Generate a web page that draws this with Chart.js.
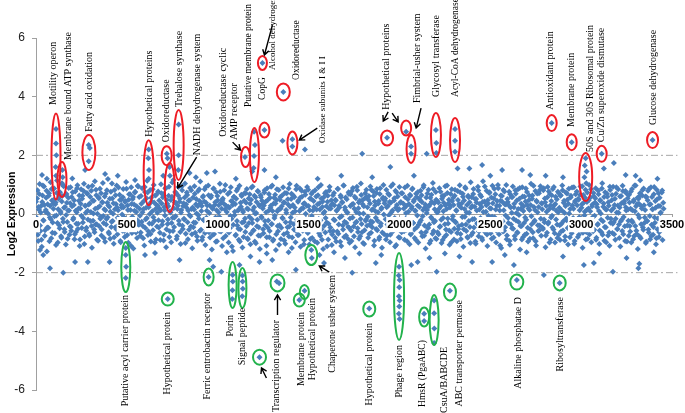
<!DOCTYPE html>
<html>
<head>
<meta charset="utf-8">
<script src="https://cdn.jsdelivr.net/npm/chart.js@4.4.1/dist/chart.umd.min.js"></script>
<style>
  html, body { margin: 0; padding: 0; background: #fff; }
</style>
</head>
<body>
<canvas id="expr" width="685" height="413"></canvas>
<script>
// log2 expression of the gene cloud, one value every geneStep genes
const geneStep = 4;
const expression = [
  0.42,-0.35,0.81,-0.92,0.15,1.02,-0.58,0.27,-1.12,0.63,-0.21,0.94,-0.74,0.08,0.55,-1.28,0.33,-0.47,0.71,-0.12,1.08,-0.83,0.46,-0.29,
  0.18,0.87,-0.66,0.39,-0.05,1.14,-0.97,0.52,-0.38,0.74,0.03,-0.81,0.61,-0.16,0.95,-0.52,0.24,-1.04,0.68,-0.27,0.12,0.89,-0.71,0.37,
  -0.44,0.58,1.21,-0.19,0.31,-0.86,0.77,-0.61,0.06,0.98,-0.33,0.45,-1.09,0.19,0.84,-0.48,0.62,-0.14,1.03,-0.77,0.28,-0.56,0.72,0.11,
  0.93,-0.68,0.36,-0.24,0.79,-1.15,0.47,0.02,-0.53,1.12,-0.36,0.64,-0.88,0.21,0.57,-0.42,0.86,-0.09,-0.73,0.41,1.06,-0.31,0.16,-0.95,
  0.69,-0.17,0.38,1.19,-0.62,0.25,-0.84,0.76,-0.26,0.53,0.01,-1.01,0.82,-0.45,0.34,0.97,-0.69,0.13,-0.37,0.66,-0.92,0.49,0.22,-0.57,
  0.85,-0.11,-0.78,0.44,1.09,-0.49,0.29,-0.98,0.67,-0.22,0.14,0.91,-0.65,0.51,-1.18,0.32,0.73,-0.39,0.07,-0.82,0.96,-0.28,0.58,-0.06,
  -0.63,0.35,0.88,-0.41,0.17,-1.07,0.75,-0.18,0.54,1.13,-0.72,0.23,-0.32,0.82,-0.94,0.43,0.09,-0.55,0.99,-0.23,0.63,-0.87,0.31,0.04,
  0.77,-0.46,0.19,-0.89,1.01,0.36,-0.25,0.68,-0.71,0.12,0.87,-1.13,0.48,-0.34,0.26,0.93,-0.59,0.05,-0.96,0.59,-0.13,1.16,-0.44,0.39,
  -0.08,0.71,-0.76,0.28,0.92,-0.35,0.52,-1.02,0.14,0.81,-0.51,0.37,-0.19,1.04,-0.67,0.22,0.65,-0.86,0.46,-0.03,0.89,-0.43,0.17,-1.17,
  0.56,-0.29,0.95,-0.64,0.33,0.02,-0.91,0.78,-0.15,0.44,1.11,-0.54,0.27,-0.79,0.61,-0.21,0.84,-1.06,0.38,0.11,-0.47,0.97,-0.62,0.29,
  -0.37,0.62,-1.21,0.18,0.86,-0.68,0.31,-0.12,0.74,-0.93,0.47,0.06,-0.58,1.03,-0.26,0.39,-1.09,0.53,-0.44,0.81,0.15,-0.75,0.27,-0.33,
  0.68,-0.97,0.21,-0.48,0.91,-0.16,0.43,-1.26,0.58,-0.04,0.34,-0.71,0.79,-0.39,0.12,-0.88,0.96,-0.52,0.25,0.61,-1.14,0.07,-0.27,0.72,
  -0.61,0.38,0.85,-0.83,0.16,-0.31,0.67,-1.03,0.49,-0.18,0.94,-0.56,0.23,-0.94,0.57,0.03,-0.42,0.78,-0.73,0.31,-1.19,0.64,-0.09,0.45,
  0.19,-0.66,0.73,-0.24,0.42,-1.08,0.88,-0.47,0.11,-0.79,0.55,0.28,-0.35,0.97,-0.91,0.36,-0.14,0.66,-1.23,0.48,0.09,-0.59,0.82,-0.38,
  0.58,-0.85,0.26,-0.13,0.91,-0.69,0.39,-1.01,0.14,0.71,-0.45,0.32,-0.77,1.02,-0.28,0.51,-1.16,0.04,0.63,-0.53,0.22,-0.96,0.84,-0.19,
  -0.72,0.46,-0.33,0.87,-1.12,0.18,0.59,-0.57,0.35,-0.89,0.76,0.01,-0.41,0.92,-0.65,0.27,-1.04,0.53,-0.23,0.69,-0.82,0.12,0.44,-0.49,
  0.81,-0.36,0.15,-0.98,0.64,-0.17,0.37,-0.74,0.99,-0.52,0.24,-1.19,0.57,0.08,-0.63,0.75,-0.29,0.42,-0.87,0.19,0.93,-0.46,0.31,-1.06,
  0.35,-0.58,0.72,-0.21,0.49,-0.94,0.13,0.86,-0.67,0.28,-0.12,0.63,-1.09,0.41,-0.39,0.97,-0.78,0.22,0.56,-0.31,0.05,-0.84,0.74,-0.47,
  -0.15,0.67,-0.92,0.33,0.89,-0.43,0.18,-1.13,0.54,-0.26,0.81,-0.61,0.39,0.02,-0.76,1.04,-0.34,0.47,-0.99,0.26,-0.55,0.71,-0.19,0.58,
  0.23,-0.81,0.61,-0.37,0.94,-0.64,0.14,-0.27,0.77,-1.07,0.43,0.09,-0.51,0.85,-0.23,0.36,-0.86,0.68,-0.41,0.17,-1.15,0.52,0.99,-0.69,
  0.46,-0.18,0.83,-0.73,0.27,-0.44,0.65,-0.96,0.38,0.06,-0.59,1.01,-0.33,0.54,-1.11,0.21,0.74,-0.48,0.13,-0.79,0.92,-0.25,0.41,-0.62,
  0.71,-0.39,0.19,-0.88,0.57,0.03,-0.54,0.96,-0.21,0.34,-1.03,0.62,-0.66,0.25,0.87,-0.31,0.48,-0.82,0.11,0.69,-0.45,0.29,-0.97,0.53,
  -0.28,0.79,-0.63,0.41,-0.08,0.91,-0.74,0.22,-1.18,0.56,0.14,-0.47,0.83,-0.36,0.32,-0.91,0.66,-0.16,1.06,-0.58,0.37,-0.24,0.75,-0.85,
  0.44,0.07,-0.69,0.88,-0.42,0.26,-0.99,0.61,-0.14,0.38,-0.78,0.95,-0.53,0.17,0.72,-0.32,0.49,-1.05,0.29,-0.61,0.84,-0.19,0.55,-0.87,
  0.62,-0.26,0.13,-0.93,0.78,-0.51,0.34,0.98,-0.68,0.21,-0.37,0.69,-1.12,0.46,-0.09,0.87,-0.58,0.31,-0.81,0.57,0.04,-0.44,1.08,-0.72,
  0.27,-0.64,0.85,-0.17,0.51,-1.01,0.39,-0.33,0.93,-0.76,0.15,0.66,-0.47,0.24,-0.89,1.12,-0.23,0.43,-0.62,0.08,0.79,-1.09,0.36,-0.29,
  0.74,-0.55,0.19,-0.84,0.96,-0.38,0.53,-0.11,0.67,-0.97,0.28,-0.43,0.88,-0.69,0.12,0.45,-1.16,0.61,-0.25,0.82,-0.57,0.33,-0.05,0.99,
  -0.73,0.41,-0.31,0.76,-1.05,0.22,0.58,-0.49,0.94,-0.16,0.35,-0.86,0.69,0.03,-0.62,0.84,-0.27,0.52,-1.21,0.18,-0.41,0.91,-0.79,0.26,
  0.59,-0.12,0.87,-0.67,0.31,-0.94,0.47,0.14,-0.52,1.03,-0.35,0.63,-0.83,0.24,-0.22,0.78,-1.07,0.42,0.06,-0.58,0.71,-0.39,0.95,-0.74,
  0.36,-0.47,0.81,-0.19,0.53,-1.13,0.27,-0.64,0.92,-0.28,0.16,0.68,-0.87,0.44,-0.06,0.85,-0.53,0.31,-0.97,0.59,0.11,-0.36,0.76,-0.71,
  0.21,-0.89,0.64,-0.33,0.97,-0.56,0.38,0.04,-0.77,0.73,-0.21,0.49,-1.04,0.86,-0.43,0.17,0.62,-0.66,0.29,-0.14,0.91,-0.92,0.45,-0.37,
  0.77,-0.18,0.52,-0.71,0.13,0.94,-0.48,0.33,-1.15,0.65,-0.29,0.08,0.83,-0.61,0.41,-0.84,0.19,0.99,-0.39,0.57,-0.96,0.26,-0.11,0.72,
  -0.54,0.39,0.88,-0.81,0.23,-0.34,0.67,-1.02,0.48,0.02,-0.62,1.05,-0.25,0.36,-0.91,0.74,-0.45,0.15,0.59,-0.73,0.28,-1.08,0.82,-0.16,
  0.47,-0.65,0.93,-0.27,0.31,-0.88,0.69,0.05,-0.51,0.84,-0.36,0.22,-1.11,0.61,-0.19,0.96,-0.69,0.37,-0.42,0.78,0.12,-0.94,0.54,-0.23,
  0.66,-0.41,0.18,-0.97,0.85,-0.28,0.43,-0.75,0.09,0.97,-0.57,0.34,-1.19,0.52,-0.13,0.71,-0.83,0.26,0.63,-0.46,0.87,-0.31,0.14,-0.99,
  0.58,-0.24,0.79,-0.63,0.32,-0.86,0.91,-0.37,0.16,-0.71,0.67,-0.12,0.44,-1.03,0.83,-0.52,0.27,-0.78,0.55,0.03,-0.46,0.73,-0.89,0.38
];
// the genes in between (offset of geneStep / 2)
const expressionMid = [
  -0.12,0.53,-0.71,0.24,0.68,-0.39,0.05,-0.88,0.41,0.97,-0.22,0.31,-0.55,0.14,0.79,-0.46,0.02,0.62,-0.93,0.27,-0.18,0.85,-0.64,0.36,
  0.49,-0.08,0.33,-1.06,0.72,-0.31,0.16,0.58,-0.49,0.09,-0.76,0.43,1.0,-0.27,0.21,-0.61,0.66,-0.03,0.38,-0.84,0.55,0.12,-0.42,0.91,
  -0.57,0.26,0.74,-0.14,0.47,-0.69,0.11,-0.33,0.88,-0.51,0.19,0.63,-0.87,0.35,-0.06,0.52,-0.29,0.78,-1.02,0.28,0.04,-0.47,0.69,-0.19,
  0.32,-0.74,0.59,0.07,-0.41,0.96,-0.23,0.45,-0.62,0.18,0.83,-0.35,0.01,-0.91,0.54,0.26,-0.16,0.71,-0.53,0.39,-0.07,-0.82,0.6,0.13,
  -0.36,0.81,-0.11,0.29,-0.67,0.52,0.08,-0.44,1.04,-0.24,0.37,-0.79,0.16,0.64,-0.52,0.22,-0.13,0.9,-0.38,0.48,-0.96,0.31,-0.02,0.57,
  0.23,-0.58,0.41,-0.17,0.86,-0.72,0.14,0.49,-0.29,0.67,-1.08,0.34,-0.09,0.58,-0.45,0.11,0.76,-0.63,0.26,-0.21,0.94,-0.37,0.18,-0.74,
  0.61,-0.26,0.06,-0.83,0.44,0.92,-0.48,0.21,-0.14,0.73,-0.59,0.32,0.0,-0.68,0.55,-0.33,0.84,-0.11,0.39,-0.97,0.17,0.66,-0.43,0.28,
  -0.21,0.46,-0.64,0.13,0.71,-0.37,0.57,-0.9,0.24,-0.05,0.89,-0.52,0.35,-0.19,0.62,-0.78,0.09,0.48,-0.31,1.07,-0.58,0.2,-0.12,0.75,
  0.38,-0.85,0.17,0.63,-0.23,0.42,-0.61,0.05,0.94,-0.4,0.27,-0.16,0.56,-0.99,0.33,0.73,-0.28,0.12,-0.54,0.47,-0.08,0.81,-0.69,0.22,
  -0.45,0.15,0.69,-0.3,0.51,-0.77,0.26,-0.04,0.84,-0.57,0.36,0.1,-0.89,0.58,-0.2,0.43,-0.65,0.92,-0.13,0.29,-0.48,0.64,0.03,-0.8,
  0.56,-0.34,0.22,-0.71,0.87,-0.18,0.4,-0.95,0.13,0.61,-0.46,0.3,-0.1,0.76,-0.6,0.18,0.48,-0.83,0.35,-0.26,0.99,-0.52,0.07,-0.39,
  0.25,-0.63,0.74,-0.07,0.44,-1.11,0.31,-0.37,0.59,0.08,-0.73,0.52,-0.24,0.86,-0.5,0.17,-0.94,0.38,0.66,-0.29,0.12,-0.78,0.45,-0.15,
  0.71,-0.42,0.19,-0.86,0.53,-0.09,0.35,-0.67,0.9,-0.31,0.14,-0.55,0.62,0.02,-1.0,0.41,-0.2,0.77,-0.45,0.27,-0.74,0.57,-0.13,0.34,
  -0.52,0.29,0.81,-0.38,0.06,-0.79,0.47,-0.22,0.68,-0.58,0.21,0.93,-0.34,0.1,-0.87,0.55,-0.06,0.36,-0.69,0.84,-0.41,0.15,-1.05,0.49,
  0.18,-0.47,0.63,-0.15,0.39,-0.9,0.72,-0.28,0.04,-0.64,0.5,0.87,-0.43,0.25,-0.12,0.69,-0.8,0.31,-0.35,0.58,0.09,-0.57,0.96,-0.25,
  0.42,-0.72,0.1,0.55,-0.32,0.79,-0.54,0.2,-1.03,0.37,0.66,-0.17,0.28,-0.61,0.83,-0.39,0.13,-0.85,0.51,-0.07,0.74,-0.48,0.24,-0.93,
  -0.28,0.6,-0.5,0.33,0.91,-0.66,0.15,-0.21,0.53,-0.88,0.43,0.03,-0.4,0.71,-0.14,0.26,-1.1,0.62,-0.33,0.8,-0.58,0.19,0.47,-0.7,
  0.64,-0.19,0.3,-0.81,0.46,0.11,-0.6,0.85,-0.36,0.22,-0.95,0.57,-0.08,0.39,-0.53,0.97,-0.26,0.14,-0.73,0.5,0.05,-0.44,0.68,-0.98,
  0.27,-0.56,0.78,-0.12,0.34,-0.76,0.59,-0.3,0.07,0.93,-0.49,0.2,-0.84,0.45,-0.17,0.65,-0.62,0.33,0.02,-1.02,0.54,-0.23,0.83,-0.4,
  -0.09,0.48,-0.68,0.36,-0.25,0.82,-0.45,0.16,0.61,-0.91,0.29,-0.13,0.72,-0.55,0.06,0.44,-0.79,0.88,-0.32,0.21,-0.63,0.56,-0.02,0.37,
  0.53,-0.87,0.23,-0.36,0.69,-0.04,0.41,-0.71,0.95,-0.27,0.12,-0.58,0.46,-0.14,0.79,-1.06,0.31,0.6,-0.46,0.17,-0.81,0.38,0.71,-0.2,
  -0.33,0.35,-0.59,0.9,-0.16,0.27,-0.93,0.5,0.08,-0.42,0.66,-0.7,0.19,0.84,-0.3,0.43,-0.53,0.11,-0.88,0.58,-0.05,0.75,-0.37,0.24,
  0.47,-0.21,0.64,-0.76,0.14,0.98,-0.39,0.32,-0.61,0.03,0.7,-0.48,0.26,-1.0,0.55,-0.11,0.42,-0.67,0.85,-0.28,0.16,-0.83,0.49,0.06,
  -0.62,0.39,0.18,-0.44,0.76,-0.2,0.52,-0.89,0.09,0.63,-0.35,0.29,-0.72,0.97,-0.15,0.37,-0.56,0.22,0.68,-0.96,0.44,-0.08,0.31,-0.5,
  0.83,-0.29,0.11,-0.65,0.48,-0.41,0.27,0.74,-0.85,0.36,-0.1,0.59,-0.52,0.17,0.91,-0.36,0.05,-0.78,0.62,-0.24,0.4,-0.99,0.21,0.57,
  -0.18,0.68,-0.46,0.25,-0.94,0.51,0.12,-0.3,0.8,-0.6,0.34,-0.14,0.6,-0.82,0.41,0.07,-0.52,0.94,-0.23,0.3,-0.7,0.47,-0.06,0.72,
  0.2,-0.66,0.56,-0.09,0.37,-0.8,0.86,-0.34,0.15,-0.57,0.44,0.99,-0.27,0.28,-1.07,0.63,-0.19,0.42,-0.6,0.13,0.77,-0.45,0.32,-0.86,
  0.51,-0.14,0.3,-0.92,0.67,-0.36,0.04,0.58,-0.5,0.23,-0.75,0.81,-0.22,0.46,-0.64,0.17,-0.03,0.89,-0.41,0.35,-0.87,0.6,0.1,-0.31,
  -0.71,0.43,-0.2,0.75,-0.47,0.19,0.63,-0.84,0.31,-0.08,0.52,-0.62,0.96,-0.26,0.14,-0.93,0.45,0.7,-0.38,0.24,-0.55,0.83,-0.16,0.37,
  0.16,-0.51,0.88,-0.28,0.4,-0.73,0.08,0.57,-0.33,0.77,-0.97,0.29,-0.12,0.64,-0.46,0.2,0.92,-0.66,0.34,-0.19,0.5,-0.82,0.06,0.71,
  -0.38,0.62,-0.6,0.12,0.81,-0.25,0.45,-0.9,0.27,-0.15,0.7,-0.48,0.35,0.02,-0.79,0.56,-0.31,0.9,-0.53,0.18,-1.01,0.41,0.67,-0.22,
  0.3,-0.78,0.49,-0.11,0.66,-0.43,0.21,0.95,-0.64,0.38,-0.05,0.55,-0.87,0.14,0.73,-0.34,0.47,-0.7,0.09,0.84,-0.27,0.32,-0.59,0.6,
  -0.06,0.54,-0.88,0.33,-0.37,0.79,0.1,-0.56,0.45,-0.2,0.87,-0.71,0.25,0.58,-0.44,0.16,-0.96,0.69,-0.13,0.4,-0.63,0.93,-0.3,0.12,
  0.65,-0.33,0.2,-0.69,0.52,-0.16,0.91,-0.51,0.29,0.04,-0.82,0.6,-0.25,0.37,-0.58,0.78,-0.1,0.44,-0.92,0.23,0.7,-0.39,0.15,-0.74,
  0.39,-0.6,0.77,-0.22,0.13,-0.86,0.48,0.97,-0.41,0.26,-0.68,0.55,-0.03,0.35,-0.77,0.64,-0.35,0.19,0.82,-0.54,0.3,-0.12,0.6,-0.95,
  -0.24,0.47,-0.53,0.86,-0.07,0.33,-0.75,0.58,0.16,-0.44,0.92,-0.3,0.21,-0.83,0.5,-0.15,0.71,-0.62,0.27,0.05,-0.49,0.8,-0.36,0.18
];

// individual genes outside the main band: [gene, log2 expression]
const upperOutliers = [
  [110,2.9],[110,2.4],[112,2.0],[108,1.6],[110,1.3],[145,1.5],[147,1.25],[143,1.05],[290,2.35],[296,2.25],[290,1.8],
  [620,2.2],[618,1.9],[622,1.5],[620,1.2],[720,2.05],[724,1.9],[735,1.6],[737,1.3],[785,3.05],[785,2.0],[783,1.5],
  [1150,1.94],[1200,2.8],[1205,2.35],[1200,1.98],[1198,1.57],[1257,2.86],[1246,5.15],[1361,4.16],[1411,2.55],[1411,2.3],
  [1357,2.5],[1480,2.2],[1932,2.6],[2037,2.8],[2064,2.3],[2064,2.05],[2201,2.86],[2203,2.42],[2203,2.08],[2306,2.9],
  [2306,2.5],[2306,2.12],[2838,3.1],[2948,2.45],[3025,1.9],[3020,1.65],[3030,1.45],[3018,1.25],[3028,1.05],[3113,2.05],
  [3393,2.52],[1795,2.05],[1950,1.6],[2150,2.05],[2320,1.55],[1257,1.5],[1190,1.45],[33,1.33],[380,1.36],[270,1.5],
  [545,1.16],[940,1.4],[985,1.45],[845,1.4],[2455,1.67],[2565,1.5],[2385,1.55],[2675,1.5],[2720,1.33],[2805,1.3],
  [3125,1.55],[3180,1.74],[3245,1.33],[3325,1.15],[700,1.3],[880,1.25],[1100,1.2],[1320,1.25],[1550,1.2],[1680,1.3],
  [1850,1.25],[2080,1.3],[2500,1.3],[2900,1.25],[3300,1.3],[3420,1.2],[450,1.3],[60,1.2]
];
const lowerOutliers = [
  [494,-1.16],[494,-1.4],[496,-1.8],[494,-2.18],[725,-2.9],[950,-2.15],[1082,-2.08],[1083,-2.3],[1081,-2.6],[1080,-2.9],
  [1136,-2.1],[1137,-2.3],[1138,-2.55],[1135,-2.8],[1325,-2.3],[1338,-2.36],[1230,-4.88],[1449,-2.93],[1478,-2.62],
  [1515,-1.23],[1518,-1.5],[1834,-3.22],[1998,-1.8],[1996,-2.1],[2001,-2.25],[1999,-2.5],[1997,-2.8],[2001,-2.95],
  [1999,-3.15],[1997,-3.4],[2001,-3.58],[2136,-3.4],[2136,-3.65],[2191,-2.95],[2191,-3.38],[2192,-3.9],[2191,-4.4],
  [2278,-2.62],[2646,-2.25],[2882,-2.35],[2795,-2.08],[3175,-1.97],[3315,-1.85],[3320,-1.7],[3015,-1.74],[3070,-1.67],
  [2630,-1.74],[2400,-1.64],[2510,-1.64],[1230,-1.64],[1300,-1.57],[1430,-1.9],[1585,-1.67],[1740,-2.0],[1870,-1.67],
  [2205,-1.97],[2165,-1.5],[2100,-1.64],[2065,-1.74],[1120,-1.74],[77,-1.85],[150,-2.0],[215,-1.64],[285,-1.64],
  [405,-1.64],[22,-1.23],[40,-1.4],[600,-1.4],[655,-1.33],[790,-1.57],[955,-1.57],[975,-1.8],[1020,-1.97],[1050,-1.3],
  [1180,-1.45],[1270,-1.35],[1390,-1.3],[1560,-1.4],[1640,-1.3],[1700,-1.5],[1780,-1.35],[1900,-1.4],[2250,-1.35],
  [2330,-1.45],[2580,-1.4],[2700,-1.3],[2900,-1.45],[3100,-1.35],[3250,-1.5],[3400,-1.3]
];

const xTicks = [0, 500, 1000, 1500, 2000, 2500, 3000, 3500];
const yTicks = [-6, -4, -2, 0, 2, 4, 6];
const cutoffs = [2, -2];

// annotations: [text, gene, log2, font px] ; up labels start at the anchor, down labels end there
const upNotes = [
  ['Motility operon', 93, 3.72, 10], ['Membrane bound ATP synthase', 176, 1.84, 10], ['Fatty acid oxidation', 291, 2.8, 10],
  ['Hypothetical proteins', 626, 2.63, 10], ['Oxidoreductase', 719, 2.45, 10], ['Trehalose synthase', 790, 3.65, 10],
  ['NADH dehydrogenase system', 889, 2.0, 10], ['Oxidoreductase cyclic', 1032, 2.63, 10], ['AMP receptor', 1093, 2.52, 10],
  ['Putative membrane protein', 1169, 3.65, 9.5], ['CopG', 1246, 3.89, 9.5], ['Alcohol dehydrogenase', 1301, 4.91, 9],
  ['Oxidoreductase', 1433, 4.57, 9.5], ['Oxidase subunits I & I I', 1576, 2.42, 9], ['Hypothetical proteins', 1927, 3.55, 10],
  ['Fimbrial-usher system', 2097, 3.78, 10], ['Glycosyl transferase', 2201, 3.99, 10], ['Acyl-CoA dehydrogenase', 2311, 3.99, 9.5],
  ['Antioxidant protein', 2833, 3.55, 10], ['Membrane protein', 2948, 2.97, 10], ['50S and 30S Ribosomal protein', 3052, 2.11, 10],
  ['Cu/Zn superoxide dismutase', 3113, 2.45, 10], ['Glucose dehydrogenase', 3398, 3.03, 10]
];
const downNotes = [
  ['Putative acyl carrier protein', 494, -2.76, 10], ['Hypothetical protein', 725, -3.34, 10], ['Ferric entrobactin receptor', 944, -2.69, 10],
  ['Porin', 1071, -3.44, 10], ['Signal peptide', 1136, -3.2, 10], ['Transcription regulator', 1323, -3.61, 10],
  ['Membrane protein', 1460, -3.34, 10], ['Hypothetical protein', 1521, -2.86, 10], ['Chaperone usher system', 1631, -2.08, 10],
  ['Hypothetical protein', 1834, -3.72, 10], ['Phage region', 1998, -4.47, 10], ['HmsR (PgaABC)', 2125, -4.3, 9.5],
  ['CsuA/BABCDE', 2245, -4.53, 10], ['ABC transporter permease', 2328, -2.93, 10], ['Alkaline phosphatae D', 2652, -2.83, 10],
  ['Ribosyltransferase', 2888, -2.83, 10]
];
// ellipses: [gene, log2 centre, rx px, ry px]
const upRings = [
  [110,1.96,4.5,43],[143,1.18,4.5,17.5],[291,2.1,6.5,17.5],[620,1.41,5,32.5],[719,1.99,5,9.5],[736,0.9,5,24.5],
  [785,2.35,5,35],[1153,1.94,4.5,10],[1202,2.01,4.5,27],[1257,2.86,5,7.5],[1246,5.15,4.5,7],[1361,4.16,6.5,8.5],
  [1411,2.42,5,11.5],[1932,2.59,6,7.5],[2037,2.93,5,7.5],[2064,2.22,4.5,14],[2201,2.69,5,22],[2306,2.52,5,22],
  [2838,3.1,5,8],[2948,2.45,5,8],[3025,1.26,6.5,24],[3113,2.05,5,8],[3393,2.52,5.5,8]
];
const downRings = [
  [494,-1.81,4.5,25],[725,-2.9,6,6.5],[950,-2.15,5,8.5],[1082,-2.42,4,23],[1136,-2.52,4,20],[1329,-2.35,7,8.5],
  [1230,-4.88,6.5,7.5],[1449,-2.93,5.5,6.5],[1477,-2.66,4.5,7],[1515,-1.4,6,10],[1834,-3.24,6,7.5],[1998,-2.81,5,43.5],
  [2136,-3.51,5,9.5],[2191,-3.61,4.5,25],[2278,-2.66,6,8.5],[2646,-2.32,6.5,7.5],[2882,-2.35,6,7.5]
];
// arrows: [from gene, from log2, to gene, to log2]
const arrows = [
  [884,1.94,780,0.89],[1082,2.45,1125,2.18],[1301,6.44,1257,5.42],[1548,2.93,1449,2.52],[1938,3.48,1911,3.17],
  [1960,3.44,1993,3.14],[2119,3.61,2092,2.93],[1329,-3.44,1329,-2.76],[1268,-5.59,1241,-5.25],[1614,-1.98,1559,-1.77]
];

const cloud = expression.map((v, i) => ({ x: i * geneStep, y: v }));
expressionMid.forEach((v, i) => cloud.push({ x: i * geneStep + geneStep / 2, y: v }));
upperOutliers.concat(lowerOutliers).forEach(([g, v]) => cloud.push({ x: g, y: v }));

const notesPlugin = {
  id: 'notes',
  afterDatasetsDraw(chart) {
    const { ctx, scales: { x, y } } = chart;
    const px = v => x.getPixelForValue(v);
    const py = v => y.getPixelForValue(v);
    ctx.save();
    ctx.lineWidth = 2;
    const rings = (list, color) => {
      ctx.strokeStyle = color;
      list.forEach(([g, v, rx, ry]) => {
        ctx.beginPath();
        ctx.ellipse(px(g), py(v), rx, ry, 0, 0, Math.PI * 2);
        ctx.stroke();
      });
    };
    rings(upRings, '#ee1c25');
    rings(downRings, '#22b24c');

    ctx.strokeStyle = '#000';
    ctx.lineWidth = 1.4;
    arrows.forEach(([g1, v1, g2, v2]) => {
      const ax = px(g1), ay = py(v1), bx = px(g2), by = py(v2);
      const a = Math.atan2(by - ay, bx - ax);
      ctx.beginPath();
      ctx.moveTo(ax, ay);
      ctx.lineTo(bx, by);
      ctx.moveTo(bx - 6 * Math.cos(a - 0.55), by - 6 * Math.sin(a - 0.55));
      ctx.lineTo(bx, by);
      ctx.lineTo(bx - 6 * Math.cos(a + 0.55), by - 6 * Math.sin(a + 0.55));
      ctx.stroke();
    });

    ctx.fillStyle = '#000';
    ctx.textBaseline = 'middle';
    const write = (list, align) => {
      ctx.textAlign = align;
      list.forEach(([t, g, v, size]) => {
        ctx.save();
        ctx.font = size + 'px "Liberation Serif", "Times New Roman", serif';
        ctx.translate(px(g), py(v));
        ctx.rotate(-Math.PI / 2);
        ctx.fillText(t, 0, 0);
        ctx.restore();
      });
    };
    write(upNotes, 'left');
    write(downNotes, 'right');
    ctx.restore();
  }
};

new Chart(document.getElementById('expr'), {
  type: 'scatter',
  data: {
    datasets: [
      {
        data: cloud,
        pointStyle: 'rectRot',
        pointRadius: 3,
        pointBorderWidth: 0,
        backgroundColor: '#4a7ebb',
        borderColor: '#4a7ebb',
        order: 1
      },
      ...cutoffs.map(c => ({
        type: 'line',
        data: [{ x: 0, y: c }, { x: 3530, y: c }],
        borderColor: '#a6a6a6',
        borderWidth: 1,
        borderDash: [7, 3, 2, 3],
        pointRadius: 0,
        clip: false,
        order: 2
      }))
    ]
  },
  options: {
    responsive: false,
    devicePixelRatio: 1,
    animation: false,
    layout: { padding: { left: 0, top: 38, right: 13, bottom: 23 } },
    plugins: { legend: { display: false }, tooltip: { enabled: false } },
    scales: {
      x: {
        type: 'linear',
        position: { y: 0 },
        min: 0,
        max: 3500,
        afterBuildTicks: s => { s.ticks = xTicks.map(v => ({ value: v })); },
        afterFit: s => { s.paddingLeft = 0; s.paddingRight = 0; },
        grid: { drawOnChartArea: false, tickLength: 4, color: '#a0a0a0' },
        border: { display: true, color: '#a0a0a0', width: 1 },
        ticks: {
          z: 1,
          padding: 0,
          color: '#000',
          callback: v => String(v),
          font: { family: '"Liberation Sans", Arial, sans-serif', size: 11, weight: 'bold' },
          showLabelBackdrop: true,
          backdropColor: '#fff',
          backdropPadding: 1,
          maxRotation: 0
        }
      },
      y: {
        min: -6,
        max: 6,
        afterBuildTicks: s => { s.ticks = yTicks.map(v => ({ value: v })); },
        afterFit: s => { s.width = 36; s.paddingTop = 0; s.paddingBottom = 0; },
        grid: { drawOnChartArea: false, tickLength: 4, color: '#a0a0a0' },
        border: { color: '#a0a0a0', width: 1 },
        ticks: {
          padding: 7,
          color: '#222',
          font: { family: '"Liberation Sans", Arial, sans-serif', size: 12 }
        },
        title: {
          display: true,
          text: 'Log2 Expression',
          color: '#000',
          padding: { top: 6, bottom: 0 },
          font: { family: '"Liberation Sans", Arial, sans-serif', size: 10.5, weight: 'bold' }
        }
      }
    }
  },
  plugins: [notesPlugin]
});
</script>
</body>
</html>
